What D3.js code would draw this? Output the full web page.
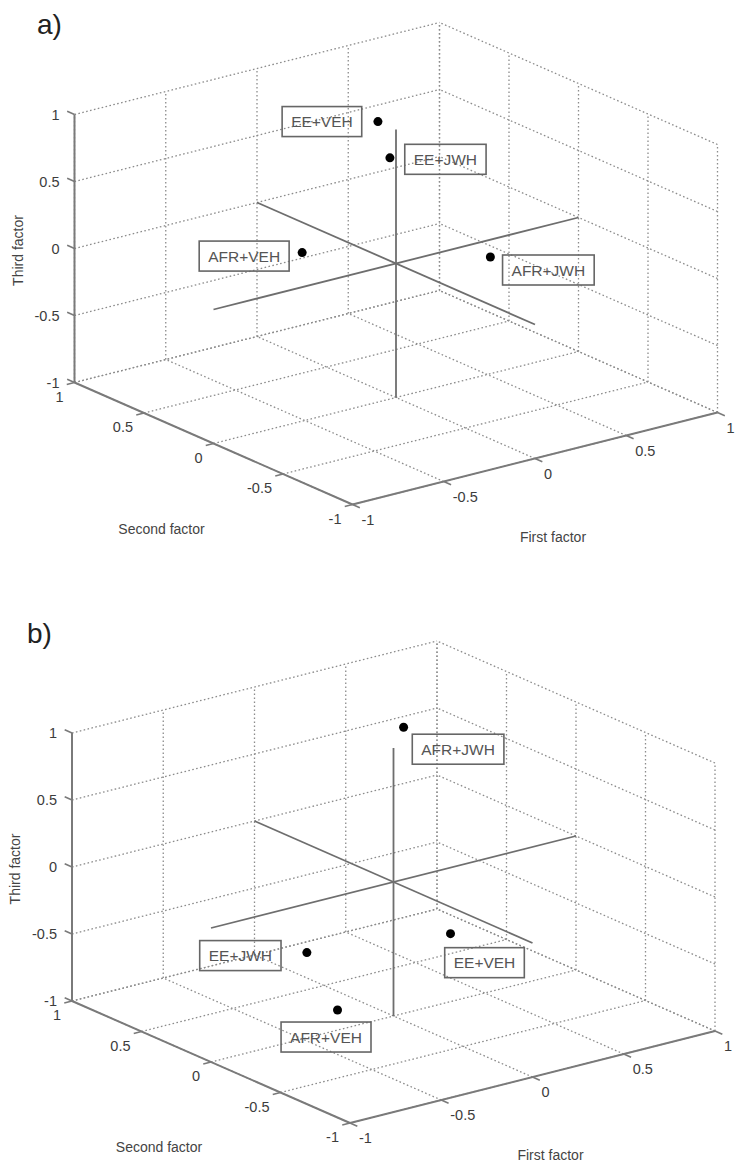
<!DOCTYPE html>
<html>
<head>
<meta charset="utf-8">
<script src="https://cdn.jsdelivr.net/npm/d3@7"></script>
<style>
  body { margin: 0; background: #fff; }
  svg { display: block; font-family: "Liberation Sans", Arial, sans-serif; }
</style>
</head>
<body>
<svg id="chart" width="744" height="1170"></svg>
<script>
// groups and factor scores (first, second, third factor)
const groups = ["EE+VEH", "EE+JWH", "AFR+VEH", "AFR+JWH"];

const firstA = [0.00, 0.02, -0.24, 0.38];
const secondA = [0.13, 0.07, 0.36, -0.18];
const thirdA = [1.00, 0.75, 0.00, 0.00];

const firstB = [0.32, -0.33, -0.36, 0.20];
const secondB = [0.01, 0.19, -0.07, 0.19];
const thirdB = [-0.50, -0.50, -0.80, 1.00];

const tickValues = [-1, -0.5, 0, 0.5, 1];
const tickLabels = ["-1", "-0.5", "0", "0.5", "1"];

// screen vectors of one unit along each factor (orthographic view)
const ex = [182.5, -46], ey = [-139, -61], ez = [0, -134];

const panels = [
  { tag: "a)", tagPos: [37, 34], origin: [396, 263.5], first: firstA, second: secondA, third: thirdA,
    labelOff: [[-56, 0], [55.5, 1.5], [-58, 3.5], [58, 13]] },
  { tag: "b)", tagPos: [27, 643], origin: [393.5, 882], first: firstB, second: secondB, third: thirdB,
    labelOff: [[34, 29], [-66.5, 3], [-11.5, 27], [54.5, 22]] }
];

const svg = d3.select("#chart");

function makeProj(o) {
  const sx = d3.scaleLinear().domain([-1, 1]).range([[-ex[0], -ex[1]], ex]);
  const sy = d3.scaleLinear().domain([-1, 1]).range([[-ey[0], -ey[1]], ey]);
  const sz = d3.scaleLinear().domain([-1, 1]).range([[-ez[0], -ez[1]], ez]);
  return p => {
    const a = sx(p[0]), b = sy(p[1]), c = sz(p[2]);
    return [o[0] + a[0] + b[0] + c[0], o[1] + a[1] + b[1] + c[1]];
  };
}

const line = d3.line();

panels.forEach(panel => {
  const P = makeProj(panel.origin);
  const g = svg.append("g");

  // grid: back wall (y=1), right wall (x=1), floor (z=-1)
  const grid = [];
  tickValues.forEach(v => {
    grid.push([[v, 1, -1], [v, 1, 1]]);
    grid.push([[-1, 1, v], [1, 1, v]]);
    grid.push([[1, v, -1], [1, v, 1]]);
    grid.push([[1, -1, v], [1, 1, v]]);
    grid.push([[v, -1, -1], [v, 1, -1]]);
    grid.push([[-1, v, -1], [1, v, -1]]);
  });
  g.selectAll(".grid").data(grid).enter().append("path")
    .attr("class", "grid")
    .attr("d", d => line(d.map(P)))
    .attr("fill", "none")
    .attr("stroke", "#8c8c8c")
    .attr("stroke-width", 1.3)
    .attr("stroke-dasharray", "1.6,2.4");

  // axes
  const axes = [
    [[-1, 1, -1], [-1, 1, 1]],
    [[-1, 1, -1], [-1, -1, -1]],
    [[-1, -1, -1], [1, -1, -1]]
  ];
  g.selectAll(".axis").data(axes).enter().append("path")
    .attr("class", "axis")
    .attr("d", d => line(d.map(P)))
    .attr("stroke", "#7a7a7a")
    .attr("stroke-width", 2);

  const tickLen = 8;
  const unit = v => { const n = Math.hypot(v[0], v[1]); return [v[0] / n, v[1] / n]; };
  const dz = unit(ey), dy = unit([-ex[0], -ex[1]]), dx = unit([-ey[0], -ey[1]]);

  tickValues.forEach((v, i) => {
    // third factor ticks
    const pz = P([-1, 1, v]);
    g.append("line").attr("x1", pz[0]).attr("y1", pz[1])
      .attr("x2", pz[0] + dz[0] * tickLen).attr("y2", pz[1] + dz[1] * tickLen)
      .attr("stroke", "#7a7a7a").attr("stroke-width", 1.5);
    g.append("text").attr("x", pz[0] - 15).attr("y", pz[1] + 5)
      .attr("text-anchor", "end").attr("font-size", 14.5).attr("fill", "#3c3c3c")
      .text(tickLabels[i]);

    // second factor ticks
    const py = P([-1, v, -1]);
    g.append("line").attr("x1", py[0]).attr("y1", py[1])
      .attr("x2", py[0] + dy[0] * tickLen).attr("y2", py[1] + dy[1] * tickLen)
      .attr("stroke", "#7a7a7a").attr("stroke-width", 1.5);
    g.append("text").attr("x", py[0] - 11).attr("y", py[1] + 19)
      .attr("text-anchor", "end").attr("font-size", 14.5).attr("fill", "#3c3c3c")
      .text(tickLabels[i]);

    // first factor ticks
    const px = P([v, -1, -1]);
    g.append("line").attr("x1", px[0]).attr("y1", px[1])
      .attr("x2", px[0] + dx[0] * tickLen).attr("y2", px[1] + dx[1] * tickLen)
      .attr("stroke", "#7a7a7a").attr("stroke-width", 1.5);
    g.append("text").attr("x", px[0] + 9).attr("y", px[1] + 20)
      .attr("text-anchor", "start").attr("font-size", 14.5).attr("fill", "#3c3c3c")
      .text(tickLabels[i]);
  });

  // axis titles
  const t2 = P([-1, 0, -1]);
  g.append("text").attr("x", t2[0] - 52).attr("y", t2[1] + 90)
    .attr("text-anchor", "middle").attr("font-size", 14).attr("fill", "#444")
    .text("Second factor");
  const t1 = P([0, -1, -1]);
  g.append("text").attr("x", t1[0] + 18).attr("y", t1[1] + 83)
    .attr("text-anchor", "middle").attr("font-size", 14).attr("fill", "#444")
    .text("First factor");
  const t3 = P([-1, 1, 0]);
  g.append("text").attr("transform", `translate(${t3[0] - 52},${t3[1] + 2}) rotate(-90)`)
    .attr("text-anchor", "middle").attr("font-size", 14).attr("fill", "#444")
    .text("Third factor");

  // reference lines through the origin
  const cross = [
    [[-1, 0, 0], [1, 0, 0]],
    [[0, -1, 0], [0, 1, 0]],
    [[0, 0, -1], [0, 0, 1]]
  ];
  g.selectAll(".cross").data(cross).enter().append("path")
    .attr("class", "cross")
    .attr("d", d => line(d.map(P)))
    .attr("stroke", "#6e6e6e")
    .attr("stroke-width", 1.8);

  // points and labels
  const pts = groups.map((name, i) => ({
    name, p: P([panel.first[i], panel.second[i], panel.third[i]]), off: panel.labelOff[i]
  }));

  pts.forEach(d => {
    const cx = d.p[0] + d.off[0], cy = d.p[1] + d.off[1];
    const txt = g.append("text").attr("x", cx).attr("y", cy + 5.5)
      .attr("text-anchor", "middle").attr("font-size", 15.5).attr("fill", "#555")
      .text(d.name);
    const bb = txt.node().getBBox();
    g.insert("rect", () => txt.node())
      .attr("x", bb.x - 9).attr("y", cy - 15)
      .attr("width", bb.width + 18).attr("height", 30)
      .attr("fill", "none").attr("stroke", "#666").attr("stroke-width", 1.6);
  });

  g.selectAll(".dot").data(pts).enter().append("circle")
    .attr("class", "dot")
    .attr("cx", d => d.p[0]).attr("cy", d => d.p[1])
    .attr("r", 4.5).attr("fill", "#000");

  g.append("text").attr("x", panel.tagPos[0]).attr("y", panel.tagPos[1])
    .attr("font-size", 28).attr("fill", "#222").text(panel.tag);
});
</script>
</body>
</html>
